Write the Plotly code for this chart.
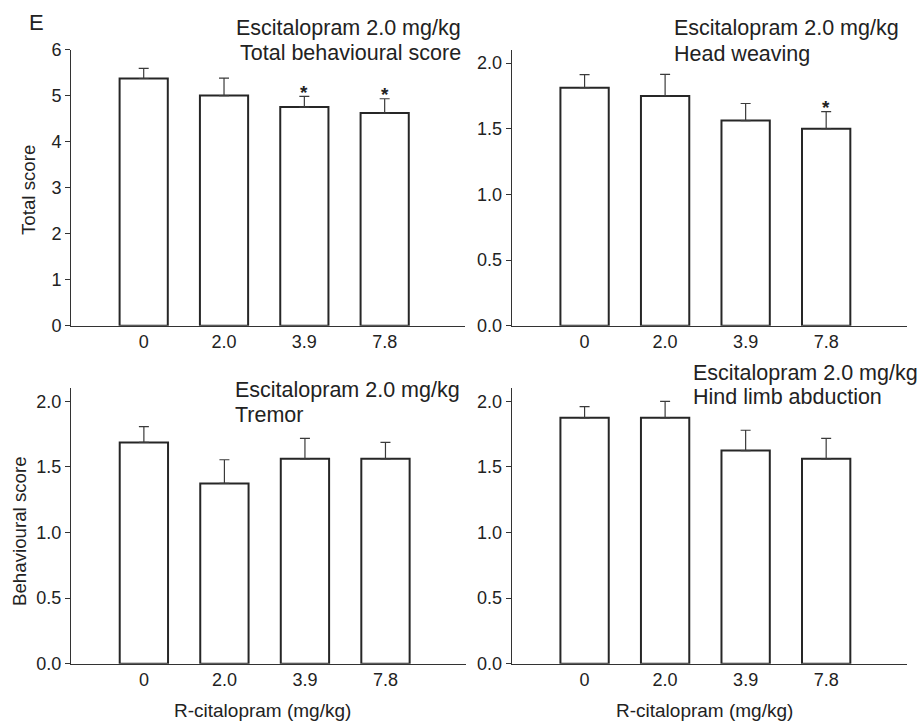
import plotly.graph_objects as go

# ---- data ----
doses = ["0", "2.0", "3.9", "7.8"]

total_mean = [5.37, 5.00, 4.75, 4.62]
total_err = [0.22, 0.38, 0.23, 0.31]
total_sig = [False, False, True, True]

head_mean = [1.813, 1.75, 1.5625, 1.50]
head_err = [0.10, 0.165, 0.13, 0.13]
head_sig = [False, False, False, True]

tremor_mean = [1.6875, 1.375, 1.5625, 1.5625]
tremor_err = [0.12, 0.18, 0.155, 0.125]
tremor_sig = [False, False, False, False]

hind_mean = [1.875, 1.875, 1.625, 1.5625]
hind_err = [0.085, 0.125, 0.155, 0.155]
hind_sig = [False, False, False, False]

panel_titles = [
    ("Escitalopram 2.0 mg/kg", "Total behavioural score"),
    ("Escitalopram 2.0 mg/kg", "Head weaving"),
    ("Escitalopram 2.0 mg/kg", "Tremor"),
    ("Escitalopram 2.0 mg/kg", "Hind limb abduction"),
]

W, H = 920, 721
FONT = "Liberation Sans, Arial, Helvetica, sans-serif"
TXT = "#222222"
LINE = "#333333"


def px(x):
    return x / W


def py(y):
    return 1 - y / H


panels = [
    dict(mean=total_mean, err=total_err, sig=total_sig, yrange=[0, 6.0], dtick=1, fmt="d",
         xdom=[px(71), px(465)], ydom=[py(325.7), py(49.5)]),
    dict(mean=head_mean, err=head_err, sig=head_sig, yrange=[0, 2.1], dtick=0.5, fmt=".1f",
         xdom=[px(511.7), px(906.7)], ydom=[py(325.7), py(50)]),
    dict(mean=tremor_mean, err=tremor_err, sig=tremor_sig, yrange=[0, 2.1], dtick=0.5, fmt=".1f",
         xdom=[px(71), px(466)], ydom=[py(663.7), py(388.3)]),
    dict(mean=hind_mean, err=hind_err, sig=hind_sig, yrange=[0, 2.1], dtick=0.5, fmt=".1f",
         xdom=[px(511.7), px(906.7)], ydom=[py(663.7), py(388.3)]),
]

xpos = list(range(len(doses)))

fig = go.Figure()
annotations = []
layout = {}

for i, p in enumerate(panels):
    n = "" if i == 0 else str(i + 1)
    xa, ya = "x" + n, "y" + n
    fig.add_trace(go.Bar(
        x=xpos, y=p["mean"], xaxis=xa, yaxis=ya, width=0.6,
        marker=dict(color="white", line=dict(color="#262626", width=2)),
        error_y=dict(type="data", array=p["err"], arrayminus=[0] * len(p["err"]),
                     symmetric=False, color="#3a3a3a", thickness=1.2, width=5),
        showlegend=False, hoverinfo="skip",
    ))
    # significance asterisks
    for k, s in enumerate(p["sig"]):
        if s:
            annotations.append(dict(
                x=xpos[k], y=p["mean"][k] + p["err"][k], xref=xa, yref=ya,
                text="<b>*</b>", showarrow=False, yanchor="middle", yshift=4,
                font=dict(family=FONT, size=19, color=TXT)))
    layout["xaxis" + n] = dict(
        domain=p["xdom"], anchor=ya, range=[-0.905, 4.0], automargin=False,
        tickvals=xpos, ticktext=doses, ticks="", showline=True, linecolor=LINE,
        linewidth=1, showgrid=False, zeroline=False,
        tickfont=dict(family=FONT, size=18, color=TXT))
    layout["yaxis" + n] = dict(
        domain=p["ydom"], anchor=xa, range=p["yrange"], dtick=p["dtick"], automargin=False,
        tickformat=p["fmt"], ticks="outside", ticklen=5, tickcolor=LINE,
        showline=True, linecolor=LINE, linewidth=1, showgrid=False, zeroline=False,
        tickfont=dict(family=FONT, size=18, color=TXT))

# panel text (two lines each)
title_pos = [
    (463, "right", 28.2, 53.5),
    (671.7, "left", 28.3, 54.2),
    (233.3, "left", 389.8, 415.3),
    (691, "left", 372.5, 396.8),
]
for (l1, l2), (tx, anc, y1, y2) in zip(panel_titles, title_pos):
    for txt, yy in ((l1, y1), (l2, y2)):
        annotations.append(dict(
            x=px(tx), y=py(yy), xref="paper", yref="paper", text=txt, showarrow=False,
            xanchor=anc, yanchor="middle", font=dict(family=FONT, size=21.5, color=TXT)))

# panel letter
annotations.append(dict(x=px(36), y=py(22.5), xref="paper", yref="paper", text="E",
                        showarrow=False, xanchor="center", yanchor="middle",
                        font=dict(family=FONT, size=22, color=TXT)))

# axis titles
annotations.append(dict(x=px(28), y=py(190), xref="paper", yref="paper", text="Total score",
                        showarrow=False, textangle=-90, xanchor="center", yanchor="middle",
                        font=dict(family=FONT, size=18.7, color=TXT)))
annotations.append(dict(x=px(19), y=py(531), xref="paper", yref="paper", text="Behavioural score",
                        showarrow=False, textangle=-90, xanchor="center", yanchor="middle",
                        font=dict(family=FONT, size=18.7, color=TXT)))
for cx in (262, 704.7):
    annotations.append(dict(x=px(cx), y=py(710), xref="paper", yref="paper",
                            text="R-citalopram (mg/kg)", showarrow=False,
                            xanchor="center", yanchor="middle",
                            font=dict(family=FONT, size=19, color=TXT)))

fig.update_layout(
    width=W, height=H, margin=dict(l=0, r=0, t=0, b=0, autoexpand=False),
    paper_bgcolor="white", plot_bgcolor="white",
    annotations=annotations, bargap=0.4, **layout)

fig.write_html("out.html")
